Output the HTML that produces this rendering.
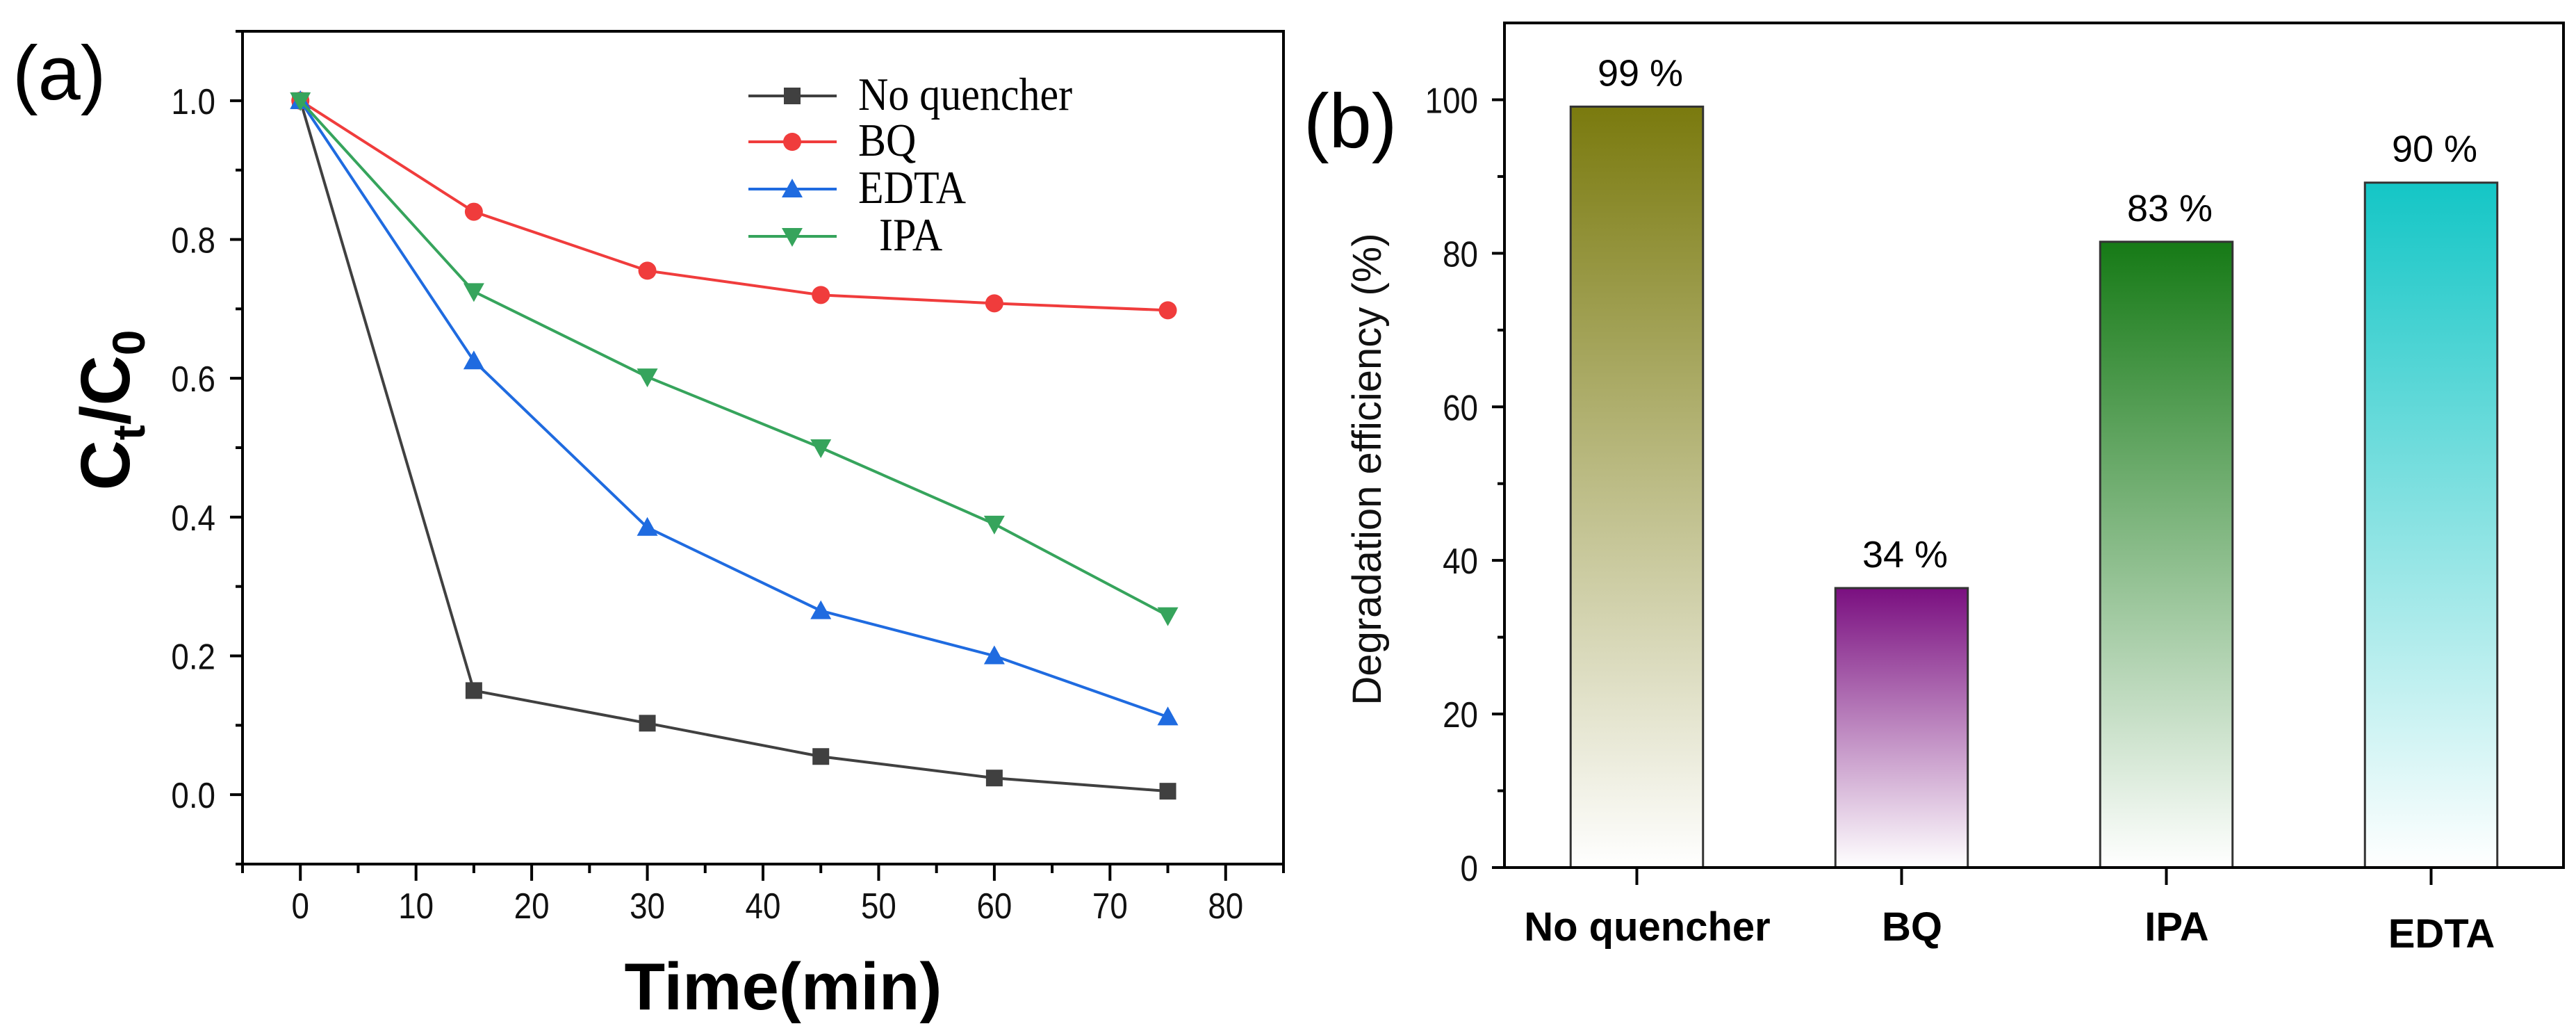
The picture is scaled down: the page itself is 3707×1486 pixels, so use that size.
<!DOCTYPE html>
<html><head><meta charset="utf-8">
<style>
html,body{margin:0;padding:0;background:#fff;}
svg{display:block;}
text{font-family:"Liberation Sans",Arial,sans-serif;}
</style></head>
<body>
<svg id="fig" width="3707" height="1486" viewBox="0 0 3707 1486" xmlns="http://www.w3.org/2000/svg">
<defs>
<linearGradient id="g0" x1="0" y1="0" x2="0" y2="1"><stop offset="0" stop-color="#7a7a0e"/><stop offset="1" stop-color="#ffffff"/></linearGradient>
<linearGradient id="g1" x1="0" y1="0" x2="0" y2="1"><stop offset="0" stop-color="#7a0f80"/><stop offset="1" stop-color="#ffffff"/></linearGradient>
<linearGradient id="g2" x1="0" y1="0" x2="0" y2="1"><stop offset="0" stop-color="#167a16"/><stop offset="1" stop-color="#ffffff"/></linearGradient>
<linearGradient id="g3" x1="0" y1="0" x2="0" y2="1"><stop offset="0" stop-color="#14c6c6"/><stop offset="1" stop-color="#ffffff"/></linearGradient>
</defs>
<g id="pa"></g>
<g id="pb"></g>
</svg>
<script>
// Panel (a) data
const timeValues = [0, 15, 30, 45, 60, 75];
const noQuencher = [1.0, 0.150, 0.103, 0.055, 0.024, 0.005];
const bqValues = [1.0, 0.840, 0.755, 0.720, 0.708, 0.698];
const edtaValues = [1.0, 0.625, 0.385, 0.265, 0.200, 0.112];
const ipaValues = [1.0, 0.725, 0.602, 0.500, 0.390, 0.258];
const xTicksA = [0, 10, 20, 30, 40, 50, 60, 70, 80];
const yTicksA = [0.0, 0.2, 0.4, 0.6, 0.8, 1.0];
const seriesNames = ["No quencher", "BQ", "EDTA", "  IPA"];
// Panel (b) data
const categories = ["No quencher", "BQ", "IPA", "EDTA"];
const efficiency = [99.1, 36.4, 81.5, 89.2];
const effLabels = ["99 %", "34 %", "83 %", "90 %"];
const yTicksB = [0, 20, 40, 60, 80, 100];

const NS = "http://www.w3.org/2000/svg";
function mk(parent, tag, attrs, txt){
  const e = document.createElementNS(NS, tag);
  for (const k in attrs) e.setAttribute(k, attrs[k]);
  if (txt !== undefined) e.textContent = txt;
  parent.appendChild(e);
  return e;
}
// ---------- Panel A ----------
const pa = document.getElementById('pa');
const A = {l:349, r:1847, t:45, b:1243, x0:-5, x1:85, y0:-0.1, y1:1.1};
const ax = v => A.l + (v - A.x0) / (A.x1 - A.x0) * (A.r - A.l);
const ay = v => A.b - (v - A.y0) / (A.y1 - A.y0) * (A.b - A.t);

let fr = mk(pa, 'rect', {x:A.l, y:A.t, width:A.r-A.l, height:A.b-A.t, fill:'none', stroke:'#000', 'stroke-width':4});



for (let v = -5; v <= 85; v += 5) {
  const major = v % 10 === 0;
  const t = mk(pa, 'line', {x1:ax(v), x2:ax(v), y1:A.b, y2:A.b + (major ? 24 : 13), stroke:'#000', 'stroke-width':4});
  
  
}
xTicksA.forEach(v => {
  const t = mk(pa, 'text', {x:ax(v), y:1321, 'font-size':52, 'text-anchor':'middle', fill:'#111', transform:`translate(${ax(v)},0) scale(0.88,1) translate(${-ax(v)},0)`}, String(v));
  
  
});
for (let i = -1; i <= 11; i++) {
  const v = i / 10;
  const major = i % 2 === 0;
  const t = mk(pa, 'line', {x1:A.l - (major ? 18 : 10), x2:A.l, y1:ay(v), y2:ay(v), stroke:'#000', 'stroke-width':4});
  
  
}
yTicksA.forEach(v => {
  const t = mk(pa, 'text', {x:310, y:ay(v) + 19, 'font-size':52, 'text-anchor':'end', fill:'#111', transform:`translate(310,0) scale(0.88,1) translate(-310,0)`}, v.toFixed(1));
  
  
});
let xt = mk(pa, 'text', {x:1127, y:1452, 'font-size':96, 'font-weight':'bold', 'text-anchor':'middle', fill:'#000'}, 'Time(min)');


let yt = mk(pa, 'text', {x:0, y:0, 'font-size':100, 'font-weight':'bold', 'text-anchor':'middle', fill:'#000', transform:'translate(186,590) rotate(-90)'});


mk(yt, 'tspan', {}, 'C');
mk(yt, 'tspan', {'font-size':66, dy:22}, 't');
mk(yt, 'tspan', {dy:-22}, '/C');
mk(yt, 'tspan', {'font-size':66, dy:22}, '0');
let la = mk(pa, 'text', {x:18, y:143, 'font-size':110, fill:'#000'}, '(a)');



const colors = ['#404040', '#f03c3c', '#1f6be0', '#36a45c'];
const allSeries = [noQuencher, bqValues, edtaValues, ipaValues];
function marker(g, kind, x, y, c){
  let m;
  if (kind === 0) m = mk(g, 'rect', {x:x-12, y:y-12, width:24, height:24, fill:c});
  else if (kind === 1) m = mk(g, 'circle', {cx:x, cy:y, r:13, fill:c});
  else if (kind === 2) m = mk(g, 'polygon', {points:`${x},${y-15} ${x-15},${y+12} ${x+15},${y+12}`, fill:c});
  else m = mk(g, 'polygon', {points:`${x},${y+15} ${x-15},${y-12} ${x+15},${y-12}`, fill:c});
  return m;
}
allSeries.forEach((s, k) => {
  const g = mk(pa, 'g', {});
  
  
  const pts = s.map((v, i) => ax(timeValues[i]) + ',' + ay(v)).join(' ');
  mk(g, 'polyline', {points:pts, fill:'none', stroke:colors[k], 'stroke-width':4});
  s.forEach((v, i) => {
    const m = marker(g, k, ax(timeValues[i]), ay(v), colors[k]);
    
    
  });
});
// legend
const lg = mk(pa, 'g', {});


const legY = [138, 204, 272, 340];
seriesNames.forEach((n, k) => {
  const e = mk(lg, 'g', {});
  
  
  mk(e, 'line', {x1:1077, x2:1204, y1:legY[k], y2:legY[k], stroke:colors[k], 'stroke-width':4});
  marker(e, k, 1140, legY[k], colors[k]);
  const by0 = legY[k] + 20;
  mk(e, 'text', {x:1235, y:by0, 'font-size':60, fill:'#000', 'xml:space':'preserve', transform:`translate(0,${by0}) scale(1,1.12) translate(0,${-by0})`, style:'font-family:"Liberation Serif",serif;white-space:pre'}, n);
});

// ---------- Panel B ----------
const pb = document.getElementById('pb');
const B = {l:2165, r:3689, t:33, b:1248, y1:110};
const bx = i => B.l + (i + 0.5) / categories.length * (B.r - B.l);
const by = v => B.b - v / B.y1 * (B.b - B.t);
const bw = (B.r - B.l) / categories.length * 0.5;
const grads = ['url(#g0)', 'url(#g1)', 'url(#g2)', 'url(#g3)'];
efficiency.forEach((v, i) => {
  const r = mk(pb, 'rect', {x:bx(i) - bw/2, y:by(v), width:bw, height:B.b - by(v), fill:grads[i], stroke:'#333', 'stroke-width':3});
  
  
  const t = mk(pb, 'text', {x:bx(i) + 5, y:by(v) - 30, 'font-size':54, 'text-anchor':'middle', fill:'#000'}, effLabels[i]);
  
  
  const tk = mk(pb, 'line', {x1:bx(i), x2:bx(i), y1:B.b, y2:B.b + 25, stroke:'#000', 'stroke-width':4});
  
  
  const cl = mk(pb, 'text', {x:bx(i) + 15, y:1353 + (i === 3 ? 10 : 0), 'font-size':58, 'font-weight':'bold', 'text-anchor':'middle', fill:'#000'}, categories[i]);
  
  
});
let frb = mk(pb, 'rect', {x:B.l, y:B.t, width:B.r-B.l, height:B.b-B.t, fill:'none', stroke:'#000', 'stroke-width':4});


for (let v = 0; v <= 100; v += 10) {
  const major = v % 20 === 0;
  const t = mk(pb, 'line', {x1:B.l - (major ? 18 : 10), x2:B.l, y1:by(v), y2:by(v), stroke:'#000', 'stroke-width':4});
  
  
}
yTicksB.forEach(v => {
  const t = mk(pb, 'text', {x:2127, y:by(v) + 19, 'font-size':52, 'text-anchor':'end', fill:'#111', transform:'translate(2127,0) scale(0.88,1) translate(-2127,0)'}, String(v));
  
  
});
let ybt = mk(pb, 'text', {x:0, y:0, 'font-size':58, 'text-anchor':'middle', fill:'#111', transform:'translate(1987,675) rotate(-90)'}, 'Degradation efficiency (%)');


let lb = mk(pb, 'text', {x:1876, y:212, 'font-size':110, fill:'#000'}, '(b)');


</script>
</body></html>
